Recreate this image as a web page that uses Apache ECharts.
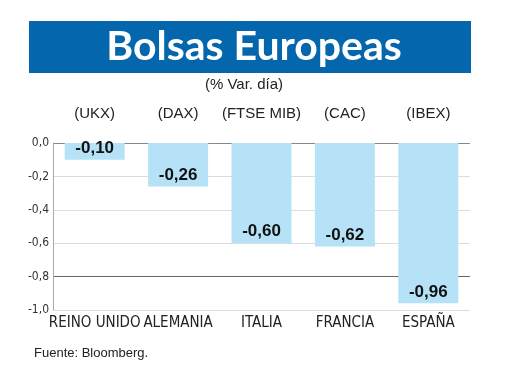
<!DOCTYPE html>
<html><head><meta charset="utf-8">
<script src="https://cdn.jsdelivr.net/npm/echarts@6/dist/echarts.min.js"></script>
<style>html,body{margin:0;padding:0;background:#fff}#c{width:520px;height:390px}</style>
</head><body><div id="c"></div>
<script>
const categories = ['REINO UNIDO', 'ALEMANIA', 'ITALIA', 'FRANCIA', 'ESPAÑA'];
const indexCodes = ['(UKX)', '(DAX)', '(FTSE MIB)', '(CAC)', '(IBEX)'];
const values = [-0.10, -0.26, -0.60, -0.62, -0.96];
const yTicks = [-1.0, -0.8, -0.6, -0.4, -0.2, 0.0];

const narrow = '"DejaVu Sans Condensed", "Liberation Sans", Arial, sans-serif';
const chart = echarts.init(document.getElementById('c'), null, {renderer: 'canvas'});
chart.setOption({
  animation: false,
  backgroundColor: '#fff',
  graphic: [
    {type: 'rect', shape: {x: 29, y: 21, width: 442, height: 52}, style: {fill: '#0467ae'}},
    {type: 'text', x: 254, y: 47, style: {text: 'Bolsas Europeas', fill: '#fff', font: 'bold 41px Lato, "Open Sans", sans-serif', align: 'center', verticalAlign: 'middle'}},
    {type: 'text', x: 244, y: 85, style: {text: '(% Var. día)', fill: '#222', font: '15px "Liberation Sans", Arial, sans-serif', align: 'center', verticalAlign: 'middle'}},
    {type: 'text', x: 34, y: 353, style: {text: 'Fuente: Bloomberg.', fill: '#222', font: '13px "Liberation Sans", Arial, sans-serif', align: 'left', verticalAlign: 'middle'}}
  ],
  grid: {left: 53, right: 50, top: 143, bottom: 80, containLabel: false},
  xAxis: [
    {type: 'category', data: categories, position: 'bottom',
     axisLine: {show: false}, axisTick: {show: false},
     axisLabel: {color: '#222', fontFamily: narrow, fontSize: 15, margin: 6, interval: 0}},
    {type: 'category', data: indexCodes, position: 'top',
     axisLine: {show: false}, axisTick: {show: false},
     axisLabel: {color: '#222', fontFamily: '"Liberation Sans", Arial, sans-serif', fontSize: 15, margin: 22, interval: 0}}
  ],
  yAxis: {
    type: 'value', min: -1.0, max: 0, interval: 0.2,
    axisLine: {show: true, lineStyle: {color: '#aaa', width: 1}},
    axisTick: {show: false},
    axisLabel: {color: '#333', fontFamily: narrow, fontSize: 12, margin: 4,
      formatter: v => v.toFixed(1).replace('.', ',')},
    splitLine: {show: true, showMinLine: true, showMaxLine: true,
      lineStyle: {color: ['#dcdcdc', '#666', '#dcdcdc', '#dcdcdc', '#dcdcdc', '#888'], width: 1}}
  },
  series: [{
    type: 'bar', data: values, barWidth: 60, xAxisIndex: 0,
    itemStyle: {color: '#b6e2f7'},
    label: {show: true, position: 'insideBottom', distance: 3, color: '#111',
      fontFamily: '"Liberation Sans", Arial, sans-serif', fontWeight: 'bold', fontSize: 17,
      formatter: p => p.value.toFixed(2).replace('.', ',')}
  }]
});
</script></body></html>
